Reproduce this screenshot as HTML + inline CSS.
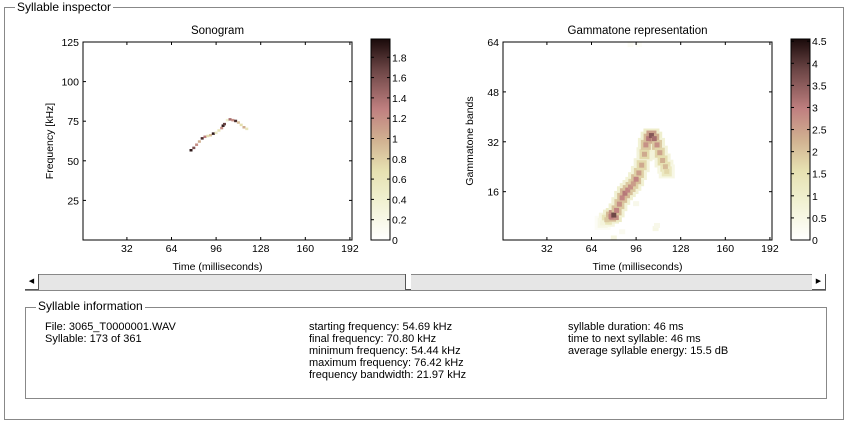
<!DOCTYPE html>
<html><head><meta charset="utf-8"><style>
body{margin:0;width:849px;height:426px;background:#fff;font-family:"Liberation Sans",sans-serif;overflow:hidden;position:relative}
.abs{position:absolute}
.t{font-size:11px;color:#000;white-space:nowrap}
</style></head><body>
<div class="abs" style="left:4px;top:7px;width:838px;height:411px;border:1px solid #888"></div>
<div class="abs t" style="left:15px;top:0px;background:#fff;padding:0 2px;font-size:12px">Syllable inspector</div>

<svg class="abs" style="left:0;top:0" width="849" height="300" id="chart">
<defs><linearGradient id="cm" x1="0" y1="1" x2="0" y2="0">
<stop offset="0" stop-color="#ffffff"/><stop offset="0.2" stop-color="#f0f0d0"/><stop offset="0.35" stop-color="#e6e0b0"/><stop offset="0.5" stop-color="#d0b090"/><stop offset="0.65" stop-color="#c08080"/><stop offset="0.85" stop-color="#6a4444"/><stop offset="1" stop-color="#1a0a0a"/>
</linearGradient></defs>
</svg>

<div class="abs" style="left:25px;top:274px;width:801px;height:15px;background:#e6e6e6;border-top:1px solid #888;border-bottom:1px solid #888"></div>
<div class="abs" style="left:25px;top:274px;width:13px;height:15px;background:#fff;border-right:1px solid #555;border-bottom:1px solid #555;font-size:7px;line-height:15px;text-align:center">◀</div>
<div class="abs" style="left:405px;top:274px;width:5px;height:15px;background:#fff;border-left:1px solid #555;border-bottom:1px solid #555"></div>
<div class="abs" style="left:812px;top:274px;width:13px;height:15px;background:#fff;border-right:1px solid #555;border-bottom:1px solid #555;font-size:7px;line-height:15px;text-align:center">▶</div>

<div class="abs" style="left:25px;top:307px;width:800px;height:90px;border:1px solid #888"></div>
<div class="abs t" style="left:36px;top:299px;background:#fff;padding:0 2px;font-size:12px">Syllable information</div>
<div class="abs t" style="left:45px;top:321px;line-height:12px">File: 3065_T0000001.WAV<br>Syllable: 173 of 361</div>
<div class="abs t" style="left:309px;top:321px;line-height:12px">starting frequency: 54.69 kHz<br>final frequency: 70.80 kHz<br>minimum frequency: 54.44 kHz<br>maximum frequency: 76.42 kHz<br>frequency bandwidth: 21.97 kHz</div>
<div class="abs t" style="left:568px;top:321px;line-height:12px">syllable duration: 46 ms<br>time to next syllable: 46 ms<br>average syllable energy: 15.5 dB</div>

<script>
// Sonogram data
const sonoTimes=[78,80,82,84,86,88,90,92,94,96,98,100,101,102,104,106,108,110,112,114,116,118];
const sonoFreqs=[56.5,58,60,62,64,65,65.5,66,67,67.5,69,70.5,72,73,75.5,76,75.5,75,74,72.5,71,70];
const sonoVals=[1.9,1.6,1.2,1.0,1.8,1.3,0.7,0.9,1.9,0.5,0.6,1.2,1.9,1.7,0.4,1.4,1.2,1.8,0.9,0.7,1.0,0.6];
// Gammatone data
const gtTimes=[72,75,78,80,82,84,86,88,90,92,94,96,98,100,102,103,105,107,109,111,113,115,117,118];
const gtBands=[6,7,8,8.5,10,12,14,15.5,16.5,17.5,18.5,20,22,24.5,28,31,33,34,33,31,28.5,26,24,22.5];
const gtVals=[0.8,2.3,3.5,4.5,3.4,3.2,3.4,3.6,3.4,3.2,3.0,3.4,3.0,2.8,2.8,3.2,3.6,4.2,3.8,3.2,2.9,2.7,2.5,2.0];
const speckTimes=[80,92,98,110,111,86,96];
const speckBands=[1,63,63,4,5,3,12];
const speckVals=[0.6,0.2,0.15,0.5,0.4,0.3,0.4];
const xTicks=[32,64,96,128,160,192];
const sonoYTicks=[25,50,75,100,125];
const gtYTicks=[16,32,48,64];
const sonoCbTicks=[0,0.2,0.4,0.6,0.8,1,1.2,1.4,1.6,1.8];
const gtCbTicks=[0,0.5,1,1.5,2,2.5,3,3.5,4,4.5];

const NS='http://www.w3.org/2000/svg';
const svg=document.getElementById('chart');
function mk(tag,at,parent){const e=document.createElementNS(NS,tag);for(const k in at)e.setAttribute(k,at[k]);(parent||svg).appendChild(e);return e;}
const stops=[[0,[255,255,255]],[0.2,[240,240,208]],[0.35,[230,224,176]],[0.5,[208,176,144]],[0.65,[192,128,128]],[0.85,[106,68,68]],[1,[26,10,10]]];
function cmap(f){f=Math.max(0,Math.min(1,f));for(let i=1;i<stops.length;i++){if(f<=stops[i][0]){const a=stops[i-1],b=stops[i],u=(f-a[0])/(b[0]-a[0]);return 'rgb('+a[1].map((c,j)=>Math.round(c+(b[1][j]-c)*u)).join(',')+')';}}return 'rgb(26,10,10)';}

function panel(o){
  const g=mk('g',{});
  
  
  const X=t=>o.x0+(t-o.tmin)/(o.tmax-o.tmin)*(o.x1-o.x0);
  const Y=v=>o.y1-(v-o.ymin)/(o.ymax-o.ymin)*(o.y1-o.y0);
  o.draw(g,X,Y);
  const box=mk('rect',{x:o.x0,y:o.y0,width:o.x1-o.x0,height:o.y1-o.y0,fill:'none',stroke:'#000','stroke-width':1},g);
  
  
  xTicks.forEach(t=>{const x=X(t);
    mk('line',{x1:x,y1:o.y1,x2:x,y2:o.y1-3,stroke:'#000'},g);mk('line',{x1:x,y1:o.y0,x2:x,y2:o.y0+3,stroke:'#000'},g);
    const tx=mk('text',{x:x,y:o.y1+12,'text-anchor':'middle','font-size':10.5},g);tx.textContent=t;
    
    });
  o.yTicks.forEach(v=>{const y=Y(v);
    mk('line',{x1:o.x0,y1:y,x2:o.x0+3,y2:y,stroke:'#000'},g);mk('line',{x1:o.x1,y1:y,x2:o.x1-3,y2:y,stroke:'#000'},g);
    const tx=mk('text',{x:o.x0-4,y:y+4,'text-anchor':'end','font-size':10.5},g);tx.textContent=v;
    
    });
  const ti=mk('text',{x:(o.x0+o.x1)/2,y:34,'text-anchor':'middle','font-size':11.5},g);ti.textContent=o.title;
  
  
  const xl=mk('text',{x:(o.x0+o.x1)/2,y:270,'text-anchor':'middle','font-size':10.5},g);xl.textContent='Time (milliseconds)';
  
  
  const yl=mk('text',{x:0,y:0,'text-anchor':'middle','font-size':10.5,transform:`translate(${o.x0-30},${(o.y0+o.y1)/2}) rotate(-90)`},g);yl.textContent=o.ylabel;
  
  
  const cb=mk('rect',{x:o.cx,y:39,width:19,height:201,fill:'url(#cm)',stroke:'#000'},g);
  
  
  const CY=v=>240-v/o.cmax*201;
  o.cbTicks.forEach(v=>{const y=CY(v);
    mk('line',{x1:o.cx,y1:y,x2:o.cx+3,y2:y,stroke:'#000'},g);mk('line',{x1:o.cx+19,y1:y,x2:o.cx+16,y2:y,stroke:'#000'},g);
    const tx=mk('text',{x:o.cx+21,y:y+4,'font-size':10.5},g);tx.textContent=v;
    
    });
}

panel({name:'sonogram',title:'Sonogram',ylabel:'Frequency [kHz]',x0:83,x1:352,y0:42,y1:240,tmin:0.5,tmax:193.5,ymin:0,ymax:125,yTicks:sonoYTicks,cx:371,cmax:1.98,cbTicks:sonoCbTicks,
 draw:(g,X,Y)=>{sonoTimes.forEach((t,i)=>{
   const c=mk('rect',{x:X(t)-1.5,y:Y(sonoFreqs[i])-1.5,width:3,height:2.5,fill:cmap(sonoVals[i]/1.98)},g);
   
   });}});

panel({name:'gammatone',title:'Gammatone representation',ylabel:'Gammatone bands',x0:503,x1:772,y0:42,y1:240,tmin:0.5,tmax:193.5,ymin:0.5,ymax:64,yTicks:gtYTicks,cx:791,cmax:4.55,cbTicks:gtCbTicks,
 draw:(g,X,Y)=>{
  speckTimes.forEach((t,i)=>{const c=mk('rect',{x:X(t)-3,y:Y(speckBands[i])-3,width:6,height:5,fill:cmap(speckVals[i]/4.55)},g);
    
    });
  gtTimes.forEach((t,i)=>{const c=mk('rect',{x:X(t)-8,y:Y(gtBands[i])-7,width:16,height:14,fill:cmap(gtVals[i]*0.25/4.55)},g);
    
    });
  gtTimes.forEach((t,i)=>{const c=mk('rect',{x:X(t)-5,y:Y(gtBands[i])-5,width:10,height:10,fill:cmap(gtVals[i]*0.6/4.55)},g);
    
    });
  gtTimes.forEach((t,i)=>{const c=mk('rect',{x:X(t)-2.5,y:Y(gtBands[i])-2.5,width:5,height:5,fill:cmap(gtVals[i]*0.85/4.55)},g);
    
    });
 }});
</script>
</body></html>
